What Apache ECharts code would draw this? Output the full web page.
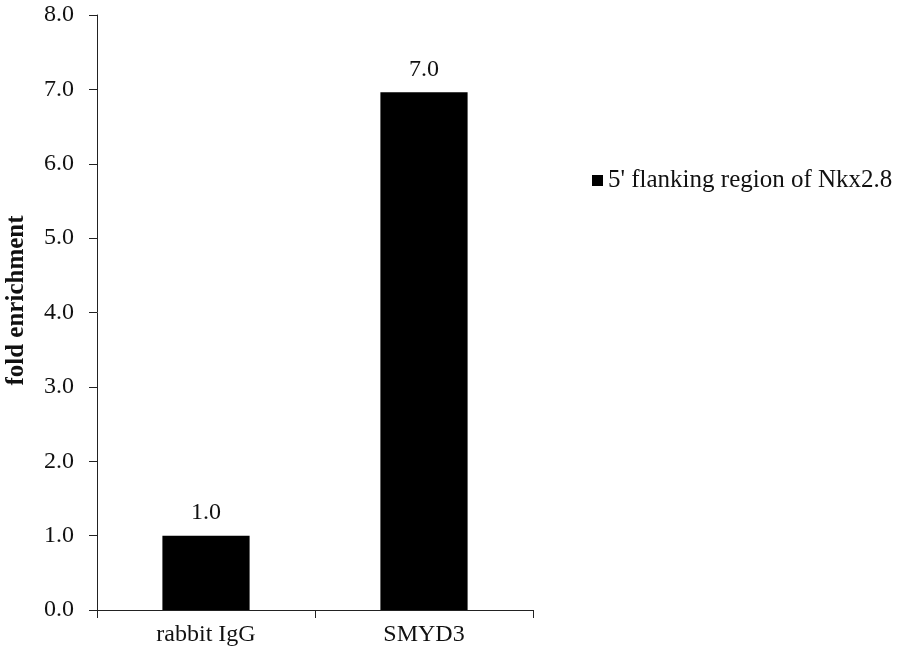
<!DOCTYPE html>
<html>
<head>
<meta charset="utf-8">
<script src="https://cdn.jsdelivr.net/npm/echarts@6/dist/echarts.min.js"></script>
<style>html,body{margin:0;padding:0;background:#fff;}#c{width:902px;height:660px;}</style>
</head>
<body>
<div id="c"></div>
<script>
const categories = ['rabbit IgG', 'SMYD3'];
const seriesName = "5' flanking region of Nkx2.8";
const values = [1.0, 6.96];
const yTicks = { min: 0, max: 8, interval: 1 };
const yTitle = 'fold enrichment';

const font = 'Liberation Serif';
const chart = echarts.init(document.getElementById('c'));
chart.setOption({
  animation: false,
  backgroundColor: '#fff',
  grid: { left: 97, right: 369, top: 15, bottom: 50, containLabel: false, outerBoundsMode: 'none' },
  legend: {
    data: [seriesName],
    left: 587, top: 163,
    icon: 'rect', itemWidth: 11, itemHeight: 11, itemGap: 5,
    textStyle: { fontFamily: font, fontSize: 25, color: '#111' }
  },
  xAxis: {
    type: 'category',
    data: categories,
    axisLine: { lineStyle: { color: '#222', width: 1 } },
    axisTick: { show: true, length: 8, alignWithLabel: false, lineStyle: { color: '#222' } },
    axisLabel: { fontFamily: font, fontSize: 24, color: '#111', margin: 13 }
  },
  yAxis: {
    type: 'value',
    min: yTicks.min, max: yTicks.max, interval: yTicks.interval,
    name: yTitle,
    nameLocation: 'middle',
    nameGap: 68,
    nameTextStyle: { fontFamily: font, fontSize: 25, fontWeight: 'bold', color: '#111', padding: [0, 0, 0, 24] },
    splitLine: { show: false },
    axisLine: { show: true, lineStyle: { color: '#222', width: 1 } },
    axisTick: { show: true, length: 8, lineStyle: { color: '#222' } },
    axisLabel: { fontFamily: font, fontSize: 24, color: '#111', margin: 23,
      formatter: v => v.toFixed(1) }
  },
  series: [{
    name: seriesName,
    type: 'bar',
    data: values,
    barWidth: '40%',
    itemStyle: { color: '#000' },
    label: { show: true, position: 'top', distance: 11, fontFamily: font, fontSize: 24, color: '#111',
      formatter: p => p.value.toFixed(1) }
  }]
});
</script>
</body>
</html>
